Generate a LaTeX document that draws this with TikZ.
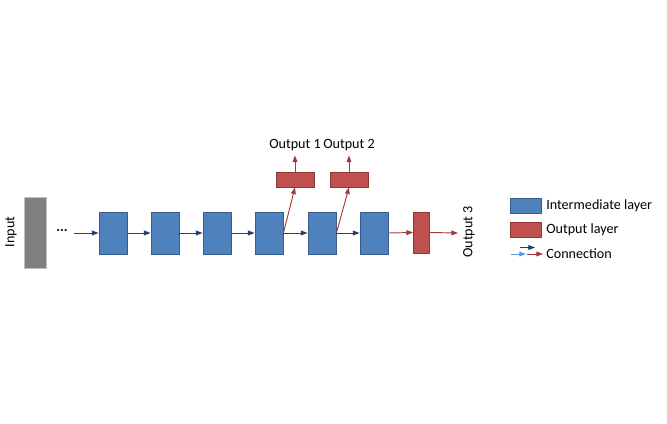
\documentclass[tikz,border=0pt]{standalone}
\usepackage{fontspec}
\setmainfont{Carlito}
\usetikzlibrary{arrows.meta}
\definecolor{blayer}{HTML}{4F81BD}
\definecolor{bborder}{HTML}{385D8A}
\definecolor{rlayer}{HTML}{C0504D}
\definecolor{rborder}{HTML}{8C3836}
\definecolor{darrow}{HTML}{1F3F6E}
\definecolor{rarrow}{HTML}{A0393A}
\definecolor{larrow}{HTML}{5B9BD5}
\definecolor{ingrey}{HTML}{808080}
\begin{document}
\begin{tikzpicture}[x=0.75pt,y=-0.75pt,
  inter/.style={draw=bborder,fill=blayer,line width=0.6pt,minimum width=21pt,minimum height=31.5pt,inner sep=0pt},
  outl/.style={draw=rborder,fill=rlayer,line width=0.6pt,inner sep=0pt},
  lbl/.style={font=\fontsize{10.6pt}{12pt}\selectfont,inner sep=0pt},
  tip/.style={-{Triangle[length=5pt,width=3.6pt]},line width=0.7pt},
  conn/.style={tip,draw=darrow},
  rconn/.style={tip,draw=rarrow}]
\useasboundingbox (0,0) rectangle (667,424);
% input
\node[draw=black!25,fill=ingrey,minimum width=16.5pt,minimum height=53.25pt,inner sep=0pt] (in) at (35,232.5) {};
\node[lbl,rotate=90] (inlbl) at (11,232) {Input};
\node[lbl] (dots) at (62,231) {\textbf{...}};
\coordinate (dstart) at (74,233);
% intermediate layers
\node[inter] (b1) at (113,233) {};
\node[inter] (b2) at (165,233) {};
\node[inter] (b3) at (217,233) {};
\node[inter] (b4) at (269,233) {};
\node[inter] (b5) at (322,233) {};
\node[inter] (b6) at (374,233) {};
% output layers
\node[outl,minimum width=12pt,minimum height=30.75pt] (r3) at (421.5,232.5) {};
\node[outl,minimum width=28.5pt,minimum height=11.25pt] (o1) at (295,179.5) {};
\node[outl,minimum width=28.5pt,minimum height=11.25pt] (o2) at (349,179.5) {};
\coordinate (e3) at (458,233);
\coordinate (e1) at (295,155.5);
\coordinate (e2) at (349,155.5);
\node[lbl] (t1) at (295,145) {Output 1};
\node[lbl] (t2) at (349,145) {Output 2};
\node[lbl,rotate=90] (t3) at (469,232) {Output 3};
% connections
\draw[conn] (dstart) -- (b1.west);
\draw[conn] (b1.east) -- (b2.west);
\draw[conn] (b2.east) -- (b3.west);
\draw[conn] (b3.east) -- (b4.west);
\draw[conn] (b4.east) -- (b5.west);
\draw[conn] (b5.east) -- (b6.west);
\draw[rconn] (b6.east) -- (r3.west);
\draw[rconn] (r3.east) -- (e3);
\draw[rconn] (b4.east) -- (o1.south);
\draw[rconn] (b5.east) -- (o2.south);
\draw[rconn] (o1.north) -- (e1);
\draw[rconn] (o2.north) -- (e2);
% legend
\node[inter,minimum width=23.25pt,minimum height=11.25pt] (lb) at (526,206) {};
\node[outl,minimum width=23.25pt,minimum height=11.25pt] (lr) at (526,230) {};
\node[lbl,anchor=west] (lbt) at (546,206) {Intermediate layer};
\node[lbl,anchor=west] (lrt) at (546,230) {Output layer};
\node[lbl,anchor=west] (lct) at (546,254) {Connection};
\coordinate (la1) at (511,254); \coordinate (la2) at (526,254);
\coordinate (ld1) at (520,247.5); \coordinate (ld2) at (535,247.5);
\coordinate (lr1) at (527,254); \coordinate (lr2) at (543,254);
\draw[tip,draw=larrow,line width=0.6pt] (la1) -- (la2);
\draw[tip,draw=darrow,line width=0.6pt] (ld1) -- (ld2);
\draw[tip,draw=rarrow,line width=0.6pt] (lr1) -- (lr2);
\end{tikzpicture}
\end{document}
